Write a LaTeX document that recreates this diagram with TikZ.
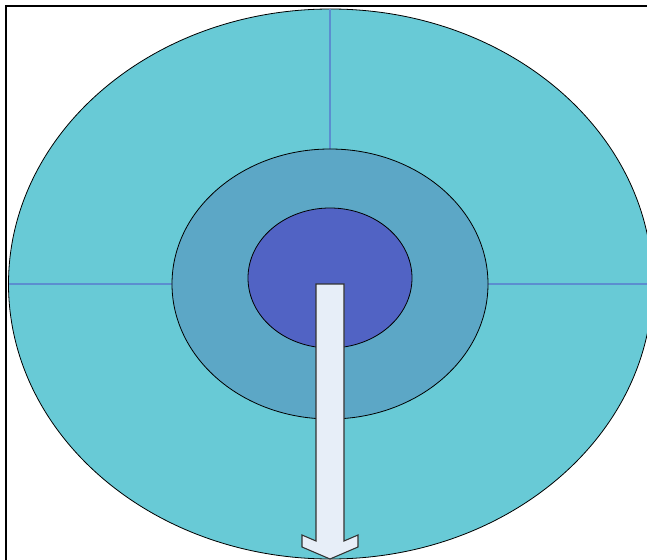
\documentclass[tikz,border=0pt]{standalone}
\usetikzlibrary{arrows.meta}
\definecolor{outerc}{HTML}{68CAD6}
\definecolor{midc}{HTML}{5CA7C6}
\definecolor{innerc}{HTML}{5163C4}
\definecolor{arrowc}{HTML}{E7EEF8}
\definecolor{linec}{HTML}{5B8ED0}
\begin{document}
\begin{tikzpicture}[x=.75pt,y=-.75pt,ring/.style={draw=black,line width=.6pt},axis/.style={draw=linec,line width=1pt}]
\useasboundingbox(0,0)rectangle(647,560);
\fill[white](0,0)rectangle(647,560);
\draw[line width=2.2pt](6,565)--(6,6)--(660,6);
\filldraw[ring,fill=outerc](330.5,284)ellipse[x radius=322,y radius=275];
\draw[axis](330,9)--(330,149);\draw[axis](9,284)--(172,284);\draw[axis](488,284)--(652,284);
\filldraw[ring,fill=midc](330,284)ellipse[x radius=158,y radius=135];
\filldraw[ring,fill=innerc](330,278)ellipse[x radius=82,y radius=70];
\filldraw[draw=black!80,line width=.8pt,fill=arrowc](316,284)--(344,284)--(344,541)--(358,535)--(358,547)--(330,559)--(302,547)--(302,535)--(316,541)--cycle;
\end{tikzpicture}
\end{document}
